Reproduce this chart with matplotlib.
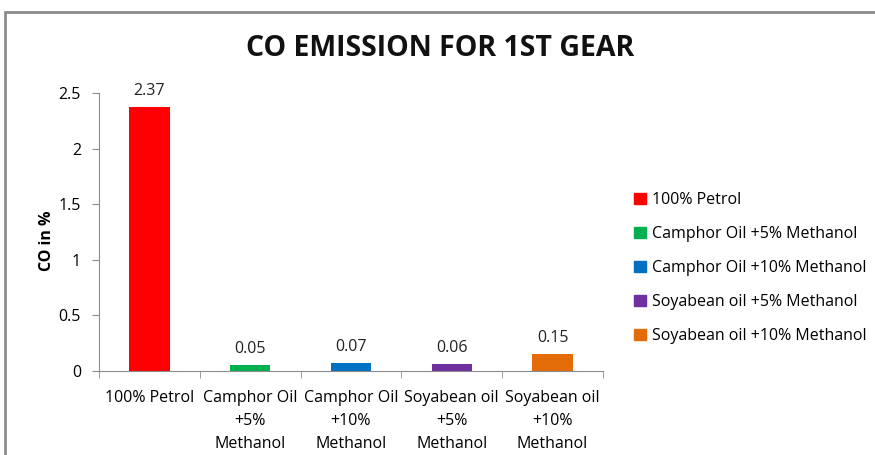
import matplotlib
matplotlib.use("Agg")
import matplotlib.pyplot as plt
from matplotlib.patches import Rectangle, Patch
from matplotlib import font_manager

categories = ["100% Petrol", "Camphor Oil\n+5%\nMethanol", "Camphor Oil\n+10%\nMethanol",
              "Soyabean oil\n+5%\nMethanol", "Soyabean oil\n+10%\nMethanol"]
legend_labels = ["100% Petrol", "Camphor Oil +5% Methanol", "Camphor Oil +10% Methanol",
                 "Soyabean oil +5% Methanol", "Soyabean oil +10% Methanol"]
values = [2.37, 0.05, 0.07, 0.06, 0.15]
value_labels = ["2.37", "0.05", "0.07", "0.06", "0.15"]
colors = ["#FF0000", "#00B050", "#0070C0", "#7030A0", "#E36C09"]
yticks = [0, 0.5, 1, 1.5, 2, 2.5]
ytick_labels = ["0", "0.5", "1", "1.5", "2", "2.5"]

names = {f.name for f in font_manager.fontManager.ttflist}
fam = "Liberation Sans Narrow" if "Liberation Sans Narrow" in names else "Open Sans"
plt.rcParams['font.family'] = [fam, 'DejaVu Sans']

fig = plt.figure(figsize=(8.75, 4.55), dpi=100)
fig.patches.append(Rectangle((5/875, -0.1), 1.2, 1 - 12/455 + 0.1, transform=fig.transFigure,
                             fill=False, edgecolor="#8C8C8C", linewidth=2.0))

ax = fig.add_axes([99/875, 1 - 371/455, (603 - 99)/875, (371 - 93)/455])
x = list(range(len(values)))
bars = ax.bar(x, values, width=0.4, color=colors)
for xi, v, lab in zip(x, values, value_labels):
    ax.annotate(lab, (xi, v), xytext=(0, 6), textcoords="offset points",
                ha="center", va="bottom", fontsize=11.5, color="#222222")

ax.set_xlim(-0.5, len(values) - 0.5)
ax.set_ylim(0, 2.5)
ax.set_yticks(yticks)
ax.set_yticklabels(ytick_labels, fontsize=11.5)
ax.set_xticks(x)
ax.set_xticklabels(categories, fontsize=11.5, linespacing=1.55, va="top")
ax.tick_params(axis="x", length=0, pad=14)
ax.set_xticks([i - 0.5 for i in range(len(values) + 1)], minor=True)
ax.tick_params(axis="x", which="minor", length=5, color="#8C8C8C", direction="out")
ax.tick_params(axis="y", length=5, color="#8C8C8C", direction="out", pad=8)
for s in ["top", "right"]:
    ax.spines[s].set_visible(False)
for s in ["left", "bottom"]:
    ax.spines[s].set_color("#8C8C8C")
ax.set_ylabel("CO in %", fontsize=11.5, fontweight="bold")
ax.yaxis.set_label_coords(-44/504, 0.47)

fig.text(440/875, 1 - 49/455, "CO EMISSION FOR 1ST GEAR", ha="center", va="center",
         fontsize=20.5, fontweight="bold", color="#111111")

handles = [Patch(facecolor=c, edgecolor=c) for c in colors]
fig.legend(handles, legend_labels, loc="upper left", bbox_to_anchor=(628/875, 1 - 186/455),
           frameon=False, fontsize=11.5, handlelength=0.7, handleheight=0.7,
           handletextpad=0.4, labelspacing=1.12, borderaxespad=0)

fig.savefig("out.png", dpi=100)
